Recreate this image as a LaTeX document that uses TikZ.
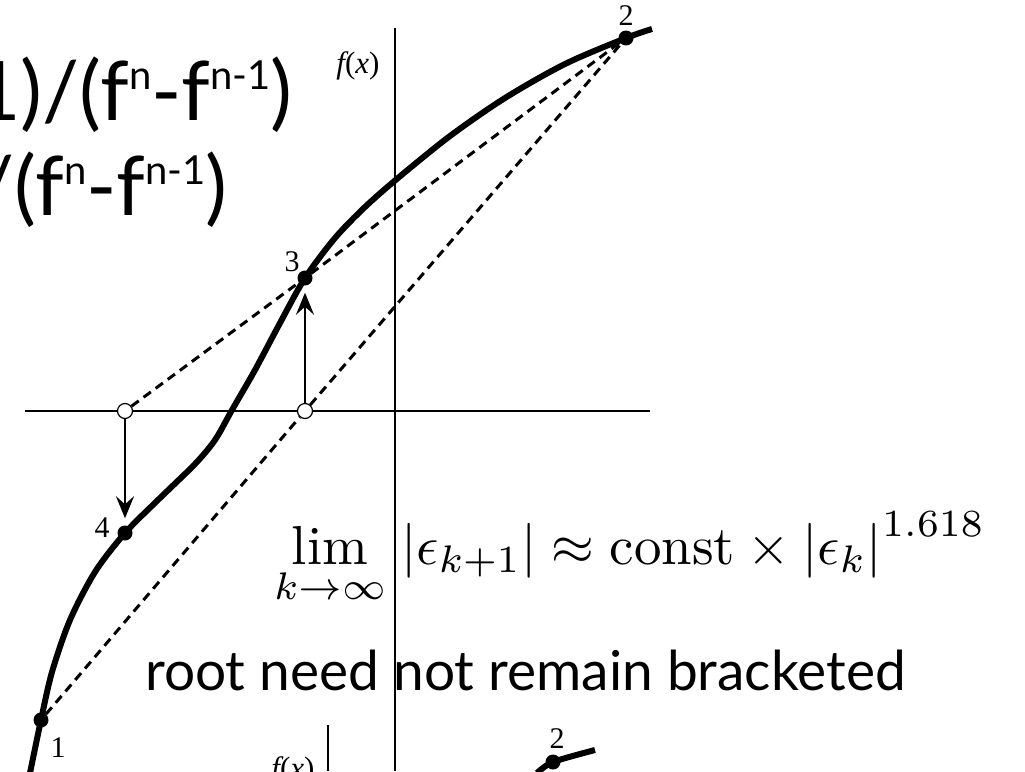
\documentclass[tikz,border=0pt]{standalone}
\usepackage{amsmath,amssymb}
\usepackage{graphicx}
\usepackage{fontspec}
\usepackage{tikz}
\usetikzlibrary{arrows.meta,positioning}
\newfontfamily\gillfont{Lato}
\newfontfamily\timesfont{Liberation Serif}
\newcommand{\fsup}[1]{\raisebox{31pt}{\fontsize{40}{40}\selectfont #1}}

\begin{document}
\begin{tikzpicture}[x=1pt,y=-1pt,
  dot/.style={circle,fill=black,inner sep=0pt,minimum size=15pt},
  ring/.style={circle,draw=black,fill=white,line width=1.2pt,inner sep=0pt,minimum size=15pt},
  num/.style={inner sep=0pt,font=\timesfont\fontsize{30}{30}\selectfont},
  fxlabel/.style={inner sep=0pt,font=\timesfont\fontsize{31}{31}\selectfont},
  axis/.style={line width=1.5pt},
  fcurve/.style={line width=6pt},
  secant/.style={line width=3pt,dash pattern=on 9pt off 6pt},
  jump/.style={-{Stealth[length=22pt,width=18pt,inset=8pt]},line width=2.6pt,shorten >=7pt},
  slide/.style={inner sep=0pt,font=\gillfont\fontsize{82}{90}\selectfont}
]
\useasboundingbox (0,0) rectangle (1025,771);
\draw[axis] (25,411) -- (650,411);
\draw[axis] (395,28) -- (395,771);
\draw[axis] (328,725) -- (328,771);
\draw[fcurve] plot[smooth] coordinates {(30,773) (41,720) (52,672) (70,620) (95,572) (125,533) (160,498) (195,464) (215,440) (232,410) (255,370) (280,323) (305,278) (335,238) (365,207) (398,178) (450,136) (505,98) (565,64) (626,38) (652,29)};
\draw[fcurve] plot[smooth] coordinates {(537,773) (553,762) (595,750)};
\node[dot] (p1) at (41,720) {};
\node[dot] (p2) at (626,38) {};
\node[dot] (p3) at (305,278) {};
\node[dot] (p4) at (125,533) {};
\node[dot] (q2) at (553,762) {};
\node[ring] (c3) at (305,411) {};
\node[ring] (c4) at (125,411) {};
\node[num] (n1) at (58,748) {1};
\node[num] (n2) at (626,16) {2};
\node[num] (n3) at (292,262) {3};
\node[num] (n4) at (102,528) {4};
\node[num] (nq2) at (557,739) {2};
\node[fxlabel] (fx) at (358,66) {{\itshape f}({\itshape x})};
\node[fxlabel] (fxb) at (293,771) {{\itshape f}({\itshape x})};
\draw[secant] (p1) -- (c3);
\draw[secant] (c3) -- (p2);
\draw[secant] (c4) -- (p3);
\draw[secant] (p3) -- (p2);
\draw[jump] (c3) -- (p3);
\draw[jump] (c4) -- (p4);
\node[slide,anchor=base east] (upd1) at (293,120) {1)/(f\fsup{n}-f\fsup{n-1})};
\node[slide,anchor=base east] (upd2) at (228,215) {/(f\fsup{n}-f\fsup{n-1})};
\node[slide,anchor=base west,font=\gillfont\fontsize{55}{66}\selectfont] (note) at (145,690) {root need not remain bracketed};
\node[anchor=base west,inner sep=0pt] (rate) at (274,564) {\resizebox{711pt}{!}{$\displaystyle\lim_{k\to\infty}\!\;\left|\epsilon_{k+1}\right|\approx\mathrm{const}\times\left|\epsilon_k\right|^{1.618}$}};
\end{tikzpicture}
\end{document}
